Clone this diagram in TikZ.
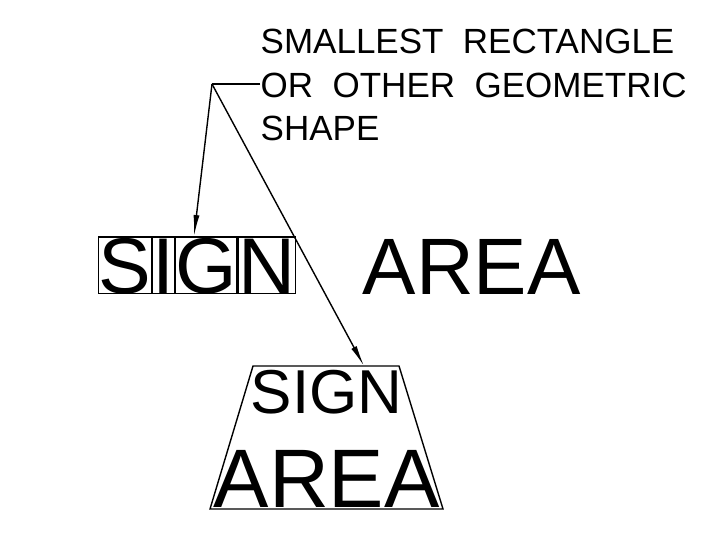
\documentclass[tikz,border=0pt]{standalone}
\usepackage{fontspec}
\setmainfont{Liberation Sans}
\usetikzlibrary{arrows.meta, positioning, calc}

\begin{document}
\begin{tikzpicture}[
		x=1pt, y=-1pt,
		line width=1.4pt,
		>={Latex[length=21pt, width=6pt]},
		note/.style={anchor=base west, inner sep=0, font=\fontsize{35}{35}\selectfont},
		letter/.style={draw, line width=1.2pt, inner sep=0, text height=56.5pt, text depth=0pt, font=\fontsize{79}{79}\selectfont},
		word/.style={anchor=base west, inner sep=0}
		]
		\useasboundingbox (0,0) rectangle (722,555);
		
		% Callout text
		\node[note] (note1) at (260,53) {SMALLEST\ \ RECTANGLE};
		\node[note] (note2) at (260,97) {OR\ \ OTHER\ \ GEOMETRIC};
		\node[note] (note3) at (260,140) {SHAPE};
		
		% Sign with one box per letter
		\node[letter, anchor=south west] (s) at (98,294) {S};
		\node[letter, right=0pt of s] (i) {I};
		\node[letter, right=0pt of i] (g) {G};
		\node[letter, right=0pt of g] (n) {N};
		\node[word, font=\fontsize{80}{80}\selectfont] (area) at (362,294) {AREA};
		
		% Sign in a trapezoid
		\node[word, font=\fontsize{62}{62}\selectfont] (sign2) at (250,413) {SIGN};
		\node[word, font=\fontsize{83}{83}\selectfont] (area2) at (213,507) {AREA};
		\draw (253,366) -- (399,366) -- (443,509) -- (210,509) -- cycle;
		
		% Leader and arrows
		\coordinate (elbow) at (212,84);
		\coordinate (tip1) at (194,236);
		\coordinate (tip2) at (364,366);
		\draw (note2.west |- elbow) -- (elbow);
		\draw[->] (elbow) -- (tip1);
		\draw[->] (elbow) -- (tip2);
		
	\end{tikzpicture}
\end{document}
